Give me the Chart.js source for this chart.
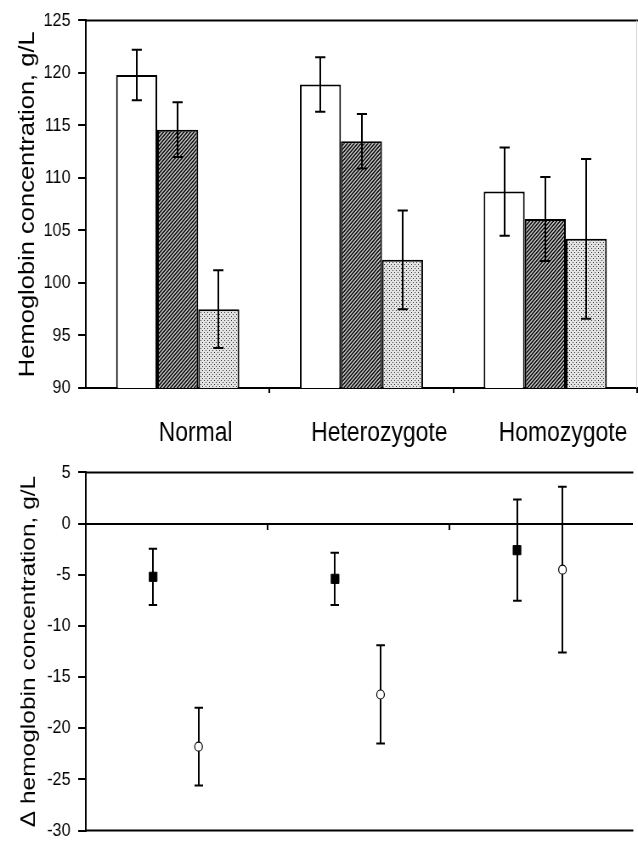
<!DOCTYPE html>
<html>
<head>
<meta charset="utf-8">
<script src="https://cdn.jsdelivr.net/npm/chart.js@4.4.1/dist/chart.umd.min.js"></script>
<style>
  body { margin: 0; background: #fff; overflow: hidden; }
  /* the original figure is horizontally condensed: draw wide, then squeeze */
  .box { position: absolute; left: 0; width: 751px; transform: scaleX(0.8495); transform-origin: 0 0; }
</style>
</head>
<body>
<div class="box" style="top:0;height:452px"><canvas id="chartTop"></canvas></div>
<div class="box" style="top:452px;height:399px"><canvas id="chartBottom"></canvas></div>
<script>
// DATA
var groups = ["Normal", "Heterozygote", "Homozygote"];

var hbSeries1 = [119.8, 118.9, 108.7];
var errSeries1 = [2.4, 2.6, 4.2];
var hbSeries2 = [114.6, 113.5, 106.1];
var errSeries2 = [2.6, 2.6, 4.0];
var hbSeries3 = [97.5, 102.2, 104.2];
var errSeries3 = [3.7, 4.7, 7.6];

var deltaSquare = [-5.2, -5.4, -2.6];
var errSquare = [2.75, 2.55, 4.95];
var deltaCircle = [-21.8, -16.7, -4.5];
var errCircle = [3.8, 4.8, 8.1];

var font = "'Liberation Sans', Arial, sans-serif";

// fill patterns
function makePattern(kind) {
    var c = document.createElement("canvas");
    c.width = 4; c.height = 4;
    var g = c.getContext("2d");
    if (kind == "hatch") {
        g.fillStyle = "#b0b0b0";
        g.fillRect(0, 0, 4, 4);
        g.fillStyle = "#1e1e1e";
        for (var i = 0; i < 4; i++) {
            g.fillRect(3 - i, i, 1, 1);
            g.fillRect((4 - i) % 4, i, 1, 1);
        }
    } else {
        g.fillStyle = "#e4e4e4";
        g.fillRect(0, 0, 4, 4);
        g.fillStyle = "#333";
        g.fillRect(0, 0, 1, 1);
        g.fillRect(2, 2, 1, 1);
    }
    return g.createPattern(c, "repeat");
}

function drawCap(ctx, x, y1, y2, half) {
    ctx.beginPath();
    ctx.moveTo(x, y1); ctx.lineTo(x, y2);
    ctx.moveTo(x - half, y1); ctx.lineTo(x + half, y1);
    ctx.moveTo(x - half, y2); ctx.lineTo(x + half, y2);
    ctx.stroke();
}

var errorBars = {
    id: "errorBars",
    beforeDatasetsDraw: function (chart) { if (chart.config.type == "scatter") this.paint(chart); },
    afterDatasetsDraw: function (chart) { if (chart.config.type != "scatter") this.paint(chart); },
    paint: function (chart) {
        var ctx = chart.ctx, y = chart.scales.y;
        ctx.save();
        ctx.strokeStyle = "#000";
        ctx.lineWidth = 2;
        chart.data.datasets.forEach(function (ds, di) {
            var meta = chart.getDatasetMeta(di);
            meta.data.forEach(function (el, i) {
                var v = chart.config.type == "scatter" ? ds.data[i].y : ds.data[i];
                var e = ds.errors[i];
                drawCap(ctx, Math.round(el.x), y.getPixelForValue(v + e), y.getPixelForValue(v - e), ds.capHalf);
            });
        });
        ctx.restore();
    }
};

var frame = {
    id: "frame",
    afterDraw: function (chart) {
        var a = chart.chartArea, ctx = chart.ctx;
        ctx.save();
        ctx.strokeStyle = "#000";
        ctx.lineWidth = 2;
        ctx.beginPath();
        ctx.moveTo(a.left, a.top); ctx.lineTo(a.right + 2, a.top);
        if (chart.config.type == "scatter") {
            ctx.moveTo(a.left, a.bottom); ctx.lineTo(a.right + 2, a.bottom);
        }
        ctx.stroke();
        if (chart.config.type != "scatter") {
            ctx.strokeStyle = "#ccc";
            ctx.lineWidth = 1;
            ctx.beginPath();
            ctx.moveTo(a.right - 0.5, a.top); ctx.lineTo(a.right - 0.5, a.bottom);
            ctx.stroke();
        }
        ctx.restore();
    }
};

var hatch = makePattern("hatch");
var dots = makePattern("dots");

// only the inner category boundaries get a tick
function innerTick(c) {
    return (c.index == 0 || c.index == 3) ? "rgba(0,0,0,0)" : "#000";
}

// CHART TOP
new Chart("chartTop", {
    type: "bar",
    data: {
        labels: groups,
        datasets: [
            { label: "Series 1", data: hbSeries1, errors: errSeries1, capHalf: 6, backgroundColor: "#fff", borderColor: "#000", borderWidth: 2 },
            { label: "Series 2", data: hbSeries2, errors: errSeries2, capHalf: 6, backgroundColor: hatch, borderColor: "#000", borderWidth: 2 },
            { label: "Series 3", data: hbSeries3, errors: errSeries3, capHalf: 6, backgroundColor: dots, borderColor: "#000", borderWidth: 2 }
        ]
    },
    options: {
        responsive: true,
        maintainAspectRatio: false,
        animation: false,
        layout: { padding: { top: 20, right: 1, left: 0, bottom: 0 } },
        datasets: { bar: { categoryPercentage: 0.67, barPercentage: 1 } },
        plugins: { legend: { display: false }, tooltip: { enabled: false } },
        scales: {
            x: {
                grid: { drawOnChartArea: false, tickLength: 5, color: innerTick, lineWidth: 2 },
                border: { color: "#000", width: 2 },
                ticks: { color: "#000", font: { family: font, size: 27 }, padding: 24, labelOffset: 21, maxRotation: 0 },
                afterFit: function (s) { s.height = 64; }
            },
            y: {
                min: 90,
                max: 125,
                ticks: { stepSize: 5, color: "#000", font: { family: font, size: 19 }, padding: 9 },
                grid: { drawOnChartArea: false, tickLength: 9, color: "#000", lineWidth: 2 },
                border: { color: "#000", width: 2 },
                title: { display: true, text: "Hemoglobin concentration, g/L", color: "#000", font: { family: font, size: 25.5 }, padding: { top: 18, bottom: 0 } },
                afterFit: function (s) { s.width = 101; }
            }
        }
    },
    plugins: [errorBars, frame]
});

// CHART BOTTOM
var xOffsetSquare = -0.13, xOffsetCircle = 0.12;
new Chart("chartBottom", {
    type: "scatter",
    data: {
        datasets: [
            {
                label: "Series 2 - Series 1",
                data: deltaSquare.map(function (v, i) { return { x: i + 0.5 + xOffsetSquare, y: v }; }),
                errors: errSquare, capHalf: 5,
                pointStyle: "rect", pointRadius: 6.5, backgroundColor: "#000", borderColor: "#000", borderWidth: 1
            },
            {
                label: "Series 3 - Series 1",
                data: deltaCircle.map(function (v, i) { return { x: i + 0.5 + xOffsetCircle, y: v }; }),
                errors: errCircle, capHalf: 5,
                pointStyle: "circle", pointRadius: 4.5, backgroundColor: "#fff", borderColor: "#000", borderWidth: 1.2
            }
        ]
    },
    options: {
        responsive: true,
        maintainAspectRatio: false,
        animation: false,
        layout: { padding: { top: 19, right: 1, left: 0, bottom: 7 } },
        plugins: { legend: { display: false }, tooltip: { enabled: false } },
        scales: {
            x: {
                type: "linear",
                min: 0,
                max: 3,
                position: { y: 0 },
                ticks: { display: false, stepSize: 1 },
                grid: { drawOnChartArea: false, tickLength: 5, color: innerTick, lineWidth: 2 },
                border: { color: "#000", width: 2 },
                afterFit: function (s) { s.height = 0; }
            },
            y: {
                min: -30,
                max: 5,
                ticks: { stepSize: 5, color: "#000", font: { family: font, size: 19 }, padding: 9 },
                grid: { drawOnChartArea: false, tickLength: 9, color: "#000", lineWidth: 2 },
                border: { color: "#000", width: 2 },
                title: { display: true, text: "\u0394 hemoglobin concentration, g/L", color: "#000", font: { family: font, size: 24.5 }, padding: { top: 20, bottom: 0 } },
                afterFit: function (s) { s.width = 101; }
            }
        }
    },
    plugins: [errorBars, frame]
});
</script>
</body>
</html>
